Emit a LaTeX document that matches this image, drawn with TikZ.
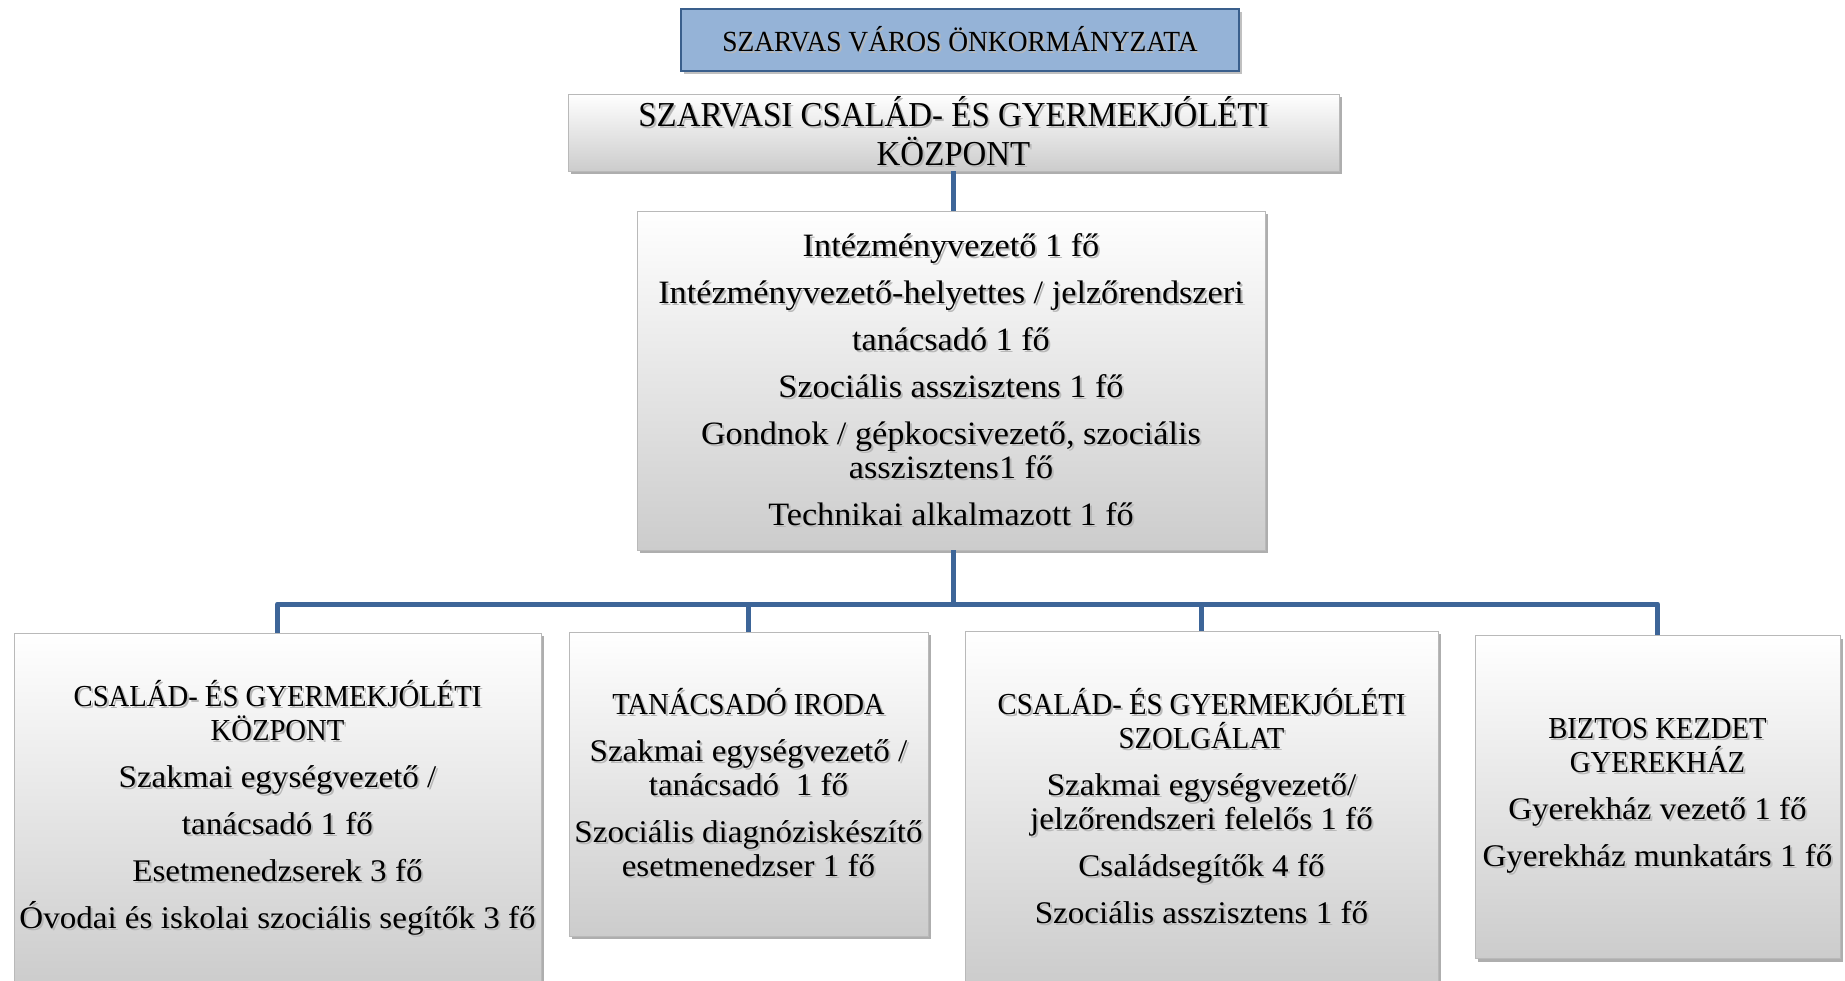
\documentclass[tikz,border=0pt]{standalone}
\usepackage{fontspec}
\setmainfont{Liberation Serif}[FakeStretch=1.05]
\newfontfamily\capsfont{Liberation Serif}[FakeStretch=0.94]
\usetikzlibrary{shadows}
\definecolor{conn}{HTML}{3D6598}
\definecolor{topfill}{HTML}{95B3D7}
\definecolor{topdraw}{HTML}{3A5F8C}
\newcommand{\bodyfont}{\fontsize{31.5}{34}\selectfont}
\newcommand{\txsh}[1]{\makebox[0pt][l]{\hspace{2pt}\raisebox{-2pt}{\textcolor{black!28}{#1}}}#1}
\newcommand{\bl}[1]{\txsh{#1}}
\newcommand{\cl}[1]{{\capsfont\fontsize{30.5}{34}\selectfont\txsh{#1}}}
\tikzset{
  graybox/.style={draw=gray!55, line width=0.8pt, top color=white, bottom color=gray!40,
    inner sep=0pt, align=center, font=\bodyfont,
    drop shadow={shadow xshift=3pt, shadow yshift=-3pt, opacity=0.45, fill=black!70}},
  bluebox/.style={draw=topdraw, line width=2.5pt, fill=topfill, inner sep=0pt,
    align=center, font=\capsfont\fontsize{29.2}{32}\selectfont,
    drop shadow={shadow xshift=3pt, shadow yshift=-3pt, opacity=0.35, fill=black!70}},
  link/.style={draw=conn, line width=5pt, line join=round}
}
\begin{document}
\begin{tikzpicture}[x=1pt,y=-1pt]
\clip (0,0) rectangle (1845,981);
\fill[white] (0,0) rectangle (1845,981);

\node[bluebox, minimum width=558pt, minimum height=62pt] (top) at (960,40)
  {\txsh{SZARVAS VÁROS ÖNKORMÁNYZATA}};

\node[graybox, minimum width=771pt, minimum height=77pt,
      font=\capsfont\fontsize{35}{39}\selectfont] (sub) at (953.5,132.5)
  {\txsh{SZARVASI CSALÁD- ÉS GYERMEKJÓLÉTI}\\\txsh{KÖZPONT}};

\node[graybox, minimum width=628pt, minimum height=339pt,
      font=\fontsize{32.6}{34}\selectfont] (mid) at (951,380.5)
  {\bl{Intézményvezető 1 fő}\\[13pt]
   \bl{Intézményvezető-helyettes / jelzőrendszeri}\\[13pt]
   \bl{tanácsadó 1 fő}\\[13pt]
   \bl{Szociális asszisztens 1 fő}\\[13pt]
   \bl{Gondnok / gépkocsivezető, szociális}\\
   \bl{asszisztens1 fő}\\[13pt]
   \bl{Technikai alkalmazott 1 fő}};

\node[graybox, minimum width=527pt, minimum height=352pt] (b1) at (277.5,809)
  {\cl{CSALÁD- ÉS GYERMEKJÓLÉTI}\\
   \cl{KÖZPONT}\\[13pt]
   \bl{Szakmai egységvezető /}\\[13pt]
   \bl{tanácsadó 1 fő}\\[13pt]
   \bl{Esetmenedzserek 3 fő}\\[13pt]
   \bl{Óvodai és iskolai szociális segítők 3 fő}};

\node[graybox, minimum width=359pt, minimum height=304pt] (b2) at (748.5,784)
  {\cl{TANÁCSADÓ IRODA}\\[13pt]
   \bl{Szakmai egységvezető /}\\
   \bl{tanácsadó\ \ 1 fő}\\[13pt]
   \bl{Szociális diagnóziskészítő}\\
   \bl{esetmenedzser 1 fő}};

\node[graybox, minimum width=473pt, minimum height=352pt] (b3) at (1201.5,807)
  {\cl{CSALÁD- ÉS GYERMEKJÓLÉTI}\\
   \cl{SZOLGÁLAT}\\[13pt]
   \bl{Szakmai egységvezető/}\\
   \bl{jelzőrendszeri felelős 1 fő}\\[13pt]
   \bl{Családsegítők 4 fő}\\[13pt]
   \bl{Szociális asszisztens 1 fő}};

\node[graybox, minimum width=365pt, minimum height=323pt] (b4) at (1657.5,797)
  {\cl{BIZTOS KEZDET}\\
   \cl{GYEREKHÁZ}\\[13pt]
   \bl{Gyerekház vezető 1 fő}\\[13pt]
   \bl{Gyerekház munkatárs 1 fő}};

\coordinate (bus) at (953,604);
\draw[link] (sub.south -| 953,0) -- (mid.north -| 953,0);
\draw[link] (mid.south -| bus) -- (bus);
\draw[link] (bus) -| (b1.north);
\draw[link] (bus) -| (b2.north);
\draw[link] (bus) -| (b3.north);
\draw[link] (bus) -| (b4.north);
\end{tikzpicture}
\end{document}
